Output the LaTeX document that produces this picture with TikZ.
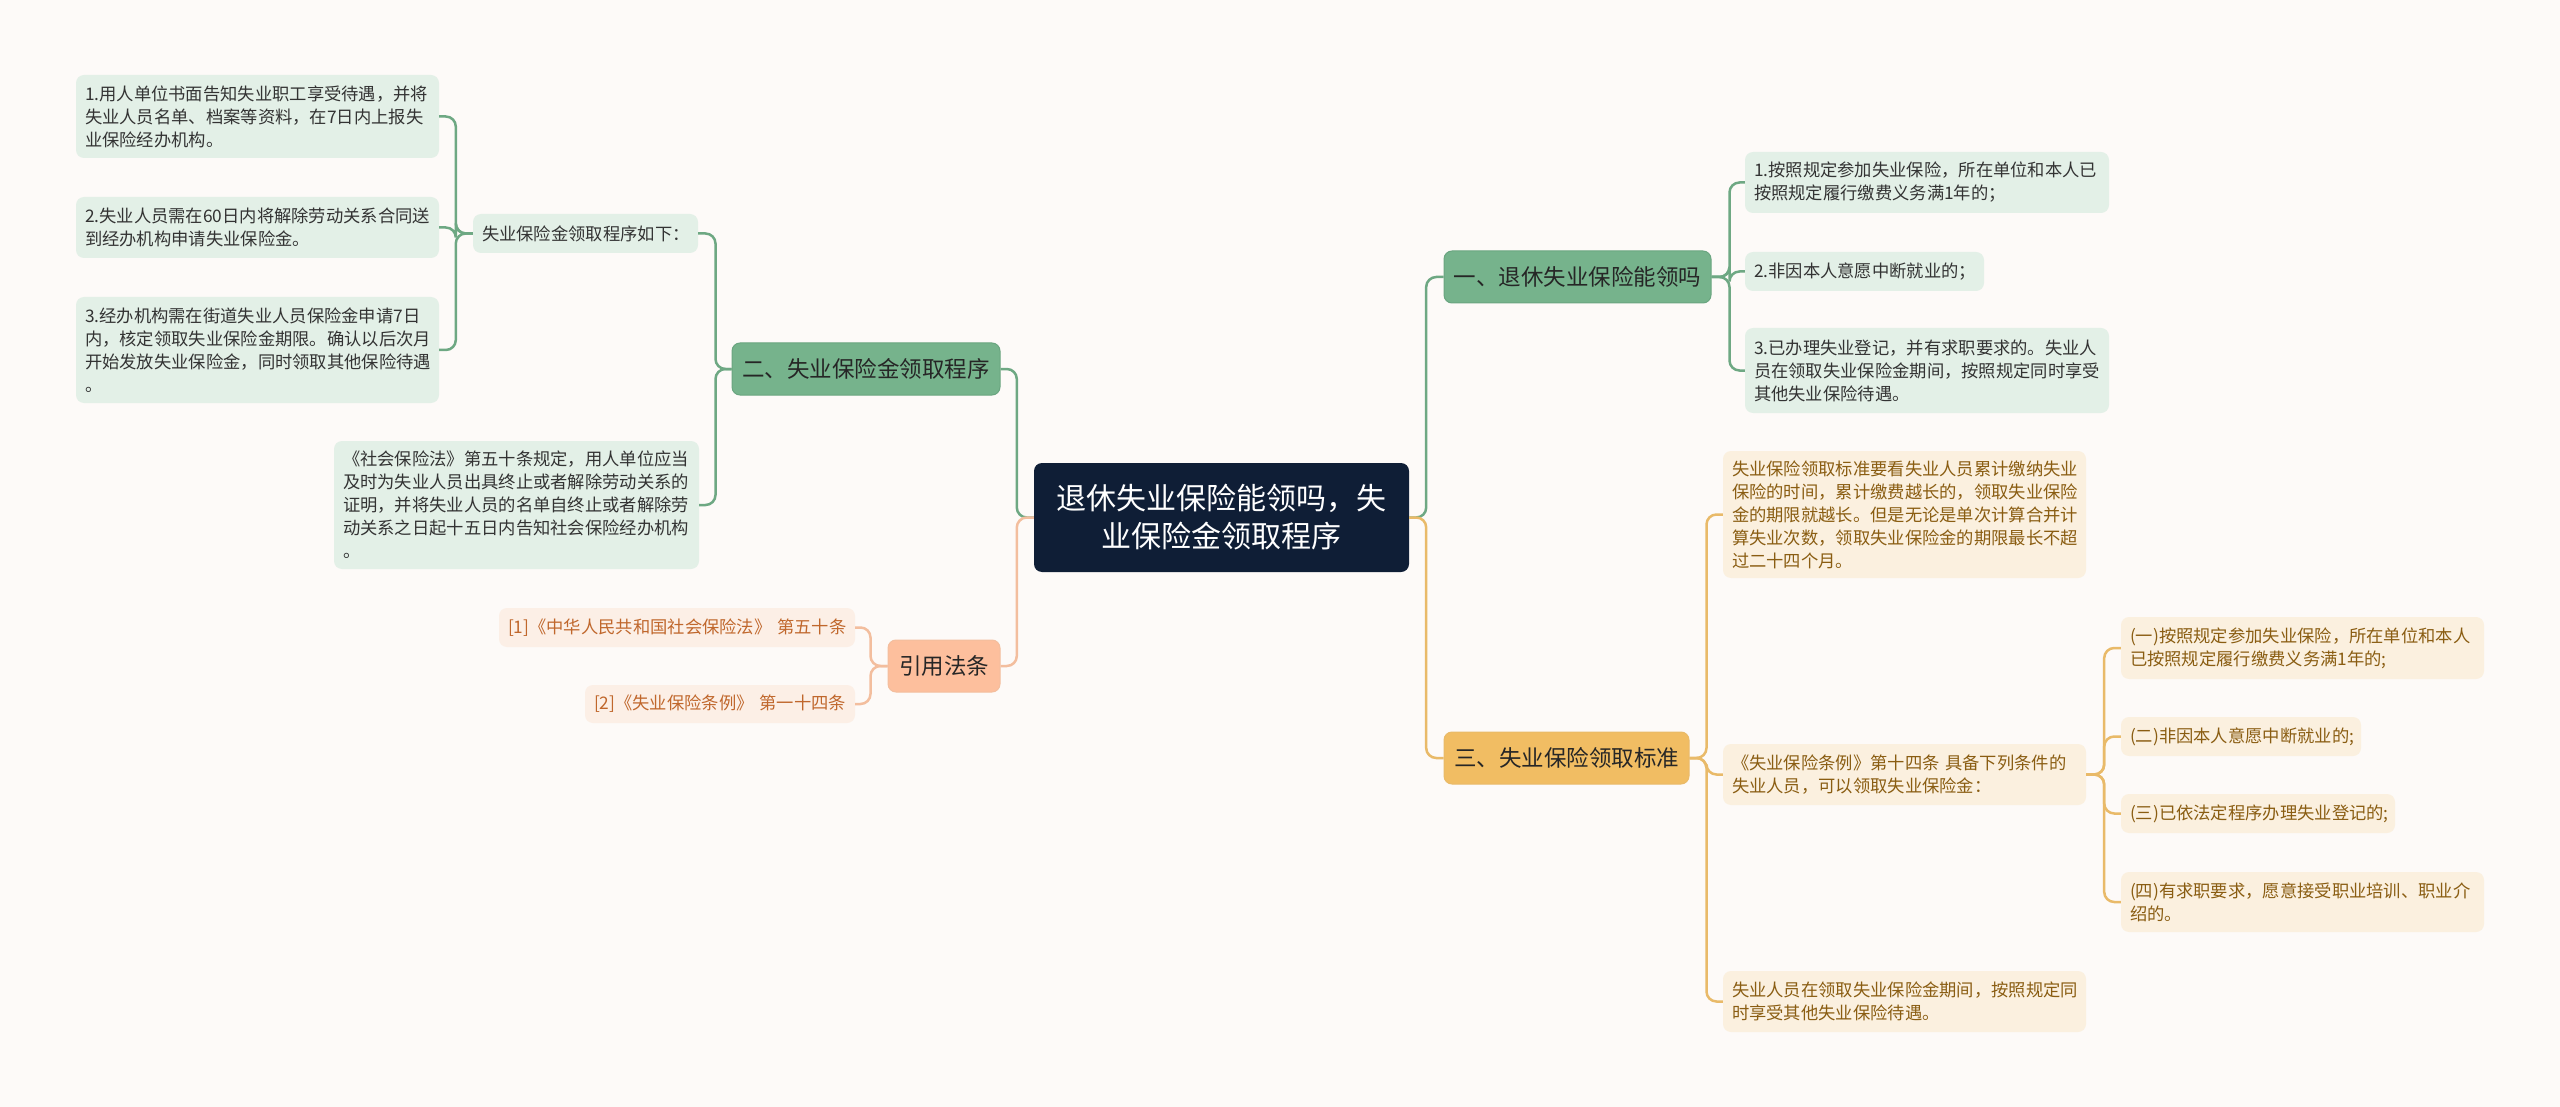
\documentclass[tikz,border=0pt]{standalone}
\usepackage{fontspec}
\setmainfont{Noto Sans CJK SC}
\definecolor{bg}{HTML}{FDFAF8}
\definecolor{rootc}{HTML}{0F1E36}
\definecolor{gmain}{HTML}{76B38C}
\definecolor{gmaind}{HTML}{6AA580}
\definecolor{gleaf}{HTML}{E3F0E7}
\definecolor{gline}{HTML}{6EA883}
\definecolor{smain}{HTML}{FDBF9D}
\definecolor{sleaf}{HTML}{FCEFE6}
\definecolor{sline}{HTML}{F3BE9E}
\definecolor{stext}{HTML}{C0672C}
\definecolor{omain}{HTML}{F1BD63}
\definecolor{oleaf}{HTML}{FBF0DF}
\definecolor{oline}{HTML}{E9BA69}
\definecolor{otext}{HTML}{8A5D12}
\definecolor{dtext}{HTML}{333333}
\tikzset{
  base/.style={rounded corners=8pt, inner xsep=9pt, inner ysep=4pt, anchor=center},
  leafG/.style={base, fill=gleaf, text=dtext, align=left, font=\fontsize{17.3}{23}\selectfont},
  leafS/.style={base, fill=sleaf, text=stext, align=left, font=\fontsize{17.3}{23}\selectfont},
  leafO/.style={base, fill=oleaf, text=otext, align=left, font=\fontsize{17.3}{23}\selectfont},
  mainG/.style={base, fill=gmain, draw=gmaind, line width=1pt, text=black!85, align=center, font=\fontsize{22.5}{28}\selectfont},
  mainS/.style={base, fill=smain, draw=sline, line width=1pt, text=black!85, align=center, font=\fontsize{22.5}{28}\selectfont},
  mainO/.style={base, fill=omain, draw=oline, line width=1pt, text=black!85, align=center, font=\fontsize{22.5}{28}\selectfont},
  rootbox/.style={base, fill=rootc, text=white, align=center, font=\fontsize{30}{38}\selectfont},
  conn/.style={line width=2.5pt, rounded corners=10pt},
}
\begin{document}
\begin{tikzpicture}[x=1pt,y=-1pt]
\useasboundingbox (0,0) rectangle (2560,1107);
\fill[bg] (0,0) rectangle (2560,1107);

% root
\node[rootbox, minimum width=375pt, minimum height=109pt] (root) at (1221.5,517.5) {退休失业保险能领吗，失\\业保险金领取程序};

% main nodes
\node[mainG, minimum width=268pt, minimum height=52pt] (n2) at (866,369) {二、失业保险金领取程序};
\node[mainS, minimum width=112pt, minimum height=52pt] (law) at (944,666) {引用法条};
\node[mainG, minimum width=267pt, minimum height=52pt] (n1) at (1577.5,277) {一、退休失业保险能领吗};
\node[mainO, minimum width=245pt, minimum height=52pt] (n3) at (1566.5,758) {三、失业保险领取标准};

% left green leaves
\node[leafG, text width=345pt, minimum height=83pt] (i1) at (257.5,116.5) {1.用人单位书面告知失业职工享受待遇，并将\\失业人员名单、档案等资料，在7日内上报失\\业保险经办机构。};
\node[leafG, text width=345pt, minimum height=61pt] (i2) at (257.5,227.5) {2.失业人员需在60日内将解除劳动关系合同送\\到经办机构申请失业保险金。};
\node[leafG, text width=345pt, minimum height=106pt] (i3) at (257.5,350) {3.经办机构需在街道失业人员保险金申请7日\\内，核定领取失业保险金期限。确认以后次月\\开始发放失业保险金，同时领取其他保险待遇\\。};
\node[leafG, text width=207pt, minimum height=39pt] (p) at (585.5,233.5) {失业保险金领取程序如下：};
\node[leafG, text width=347pt, minimum height=128pt] (s) at (516.5,505) {《社会保险法》第五十条规定，用人单位应当\\及时为失业人员出具终止或者解除劳动关系的\\证明，并将失业人员的名单自终止或者解除劳\\动关系之日起十五日内告知社会保险经办机构\\。};

% citations
\node[leafS, text width=338pt, minimum height=39pt] (c1) at (677,627.5) {[1]《中华人民共和国社会保险法》~第五十条};
\node[leafS, text width=252pt, minimum height=38pt] (c2) at (720,704) {[2]《失业保险条例》~第一十四条};

% right green leaves
\node[leafG, text width=346pt, minimum height=61pt] (r1) at (1927,182.5) {1.按照规定参加失业保险，所在单位和本人已\\按照规定履行缴费义务满1年的；};
\node[leafG, text width=221pt, minimum height=39pt] (r2) at (1864.5,271.5) {2.非因本人意愿中断就业的；};
\node[leafG, text width=346pt, minimum height=85pt] (r3) at (1927,370.5) {3.已办理失业登记，并有求职要求的。失业人\\员在领取失业保险金期间，按照规定同时享受\\其他失业保险待遇。};

% right orange leaves
\node[leafO, text width=345pt, minimum height=127pt] (y1) at (1904.5,514.5) {失业保险领取标准要看失业人员累计缴纳失业\\保险的时间，累计缴费越长的，领取失业保险\\金的期限就越长。但是无论是单次计算合并计\\算失业次数，领取失业保险金的期限最长不超\\过二十四个月。};
\node[leafO, text width=345pt, minimum height=61pt] (y2) at (1904.5,774.5) {《失业保险条例》第十四条~具备下列条件的\\失业人员，可以领取失业保险金：};
\node[leafO, text width=345pt, minimum height=61pt] (y3) at (1904.5,1001.5) {失业人员在领取失业保险金期间，按照规定同\\时享受其他失业保险待遇。};
\node[leafO, text width=345pt, minimum height=62pt] (z1) at (2302.5,648) {(一)按照规定参加失业保险，所在单位和本人\\已按照规定履行缴费义务满1年的;};
\node[leafO, text width=222pt, minimum height=39pt] (z2) at (2241,736.5) {(二)非因本人意愿中断就业的;};
\node[leafO, text width=256pt, minimum height=39pt] (z3) at (2258,813.5) {(三)已依法定程序办理失业登记的;};
\node[leafO, text width=345pt, minimum height=60pt] (z4) at (2302.5,902) {(四)有求职要求，愿意接受职业培训、职业介\\绍的。};

% connectors
\begin{scope}[on background layer/.style={}]
\draw[conn, gline] (root.west) -- ++(-17,0) |- (n2.east);
\draw[conn, sline] (root.west) -- ++(-17,0) |- (law.east);
\draw[conn, gline] (root.east) -- ++(17,0) |- (n1.west);
\draw[conn, oline] (root.east) -- ++(17,0) |- (n3.west);

\draw[conn, gline] (n2.west) -- ++(-16,0) |- (p.east);
\draw[conn, gline] (n2.west) -- ++(-16,0) |- (s.east);
\draw[conn, gline] (p.west) -- ++(-17,0) |- (i1.east);
\draw[conn, gline] (p.west) -- ++(-17,0) |- (i2.east);
\draw[conn, gline] (p.west) -- ++(-17,0) |- (i3.east);

\draw[conn, sline] (law.west) -- ++(-17,0) |- (c1.east);
\draw[conn, sline] (law.west) -- ++(-17,0) |- (c2.east);

\draw[conn, gline] (n1.east) -- ++(18,0) |- (r1.west);
\draw[conn, gline] (n1.east) -- ++(18,0) |- (r2.west);
\draw[conn, gline] (n1.east) -- ++(18,0) |- (r3.west);

\draw[conn, oline] (n3.east) -- ++(17,0) |- (y1.west);
\draw[conn, oline] (n3.east) -- ++(17,0) |- (y2.west);
\draw[conn, oline] (n3.east) -- ++(17,0) |- (y3.west);

\draw[conn, oline] (y2.east) -- ++(18,0) |- (z1.west);
\draw[conn, oline] (y2.east) -- ++(18,0) |- (z2.west);
\draw[conn, oline] (y2.east) -- ++(18,0) |- (z3.west);
\draw[conn, oline] (y2.east) -- ++(18,0) |- (z4.west);
\end{scope}
\end{tikzpicture}
\end{document}
